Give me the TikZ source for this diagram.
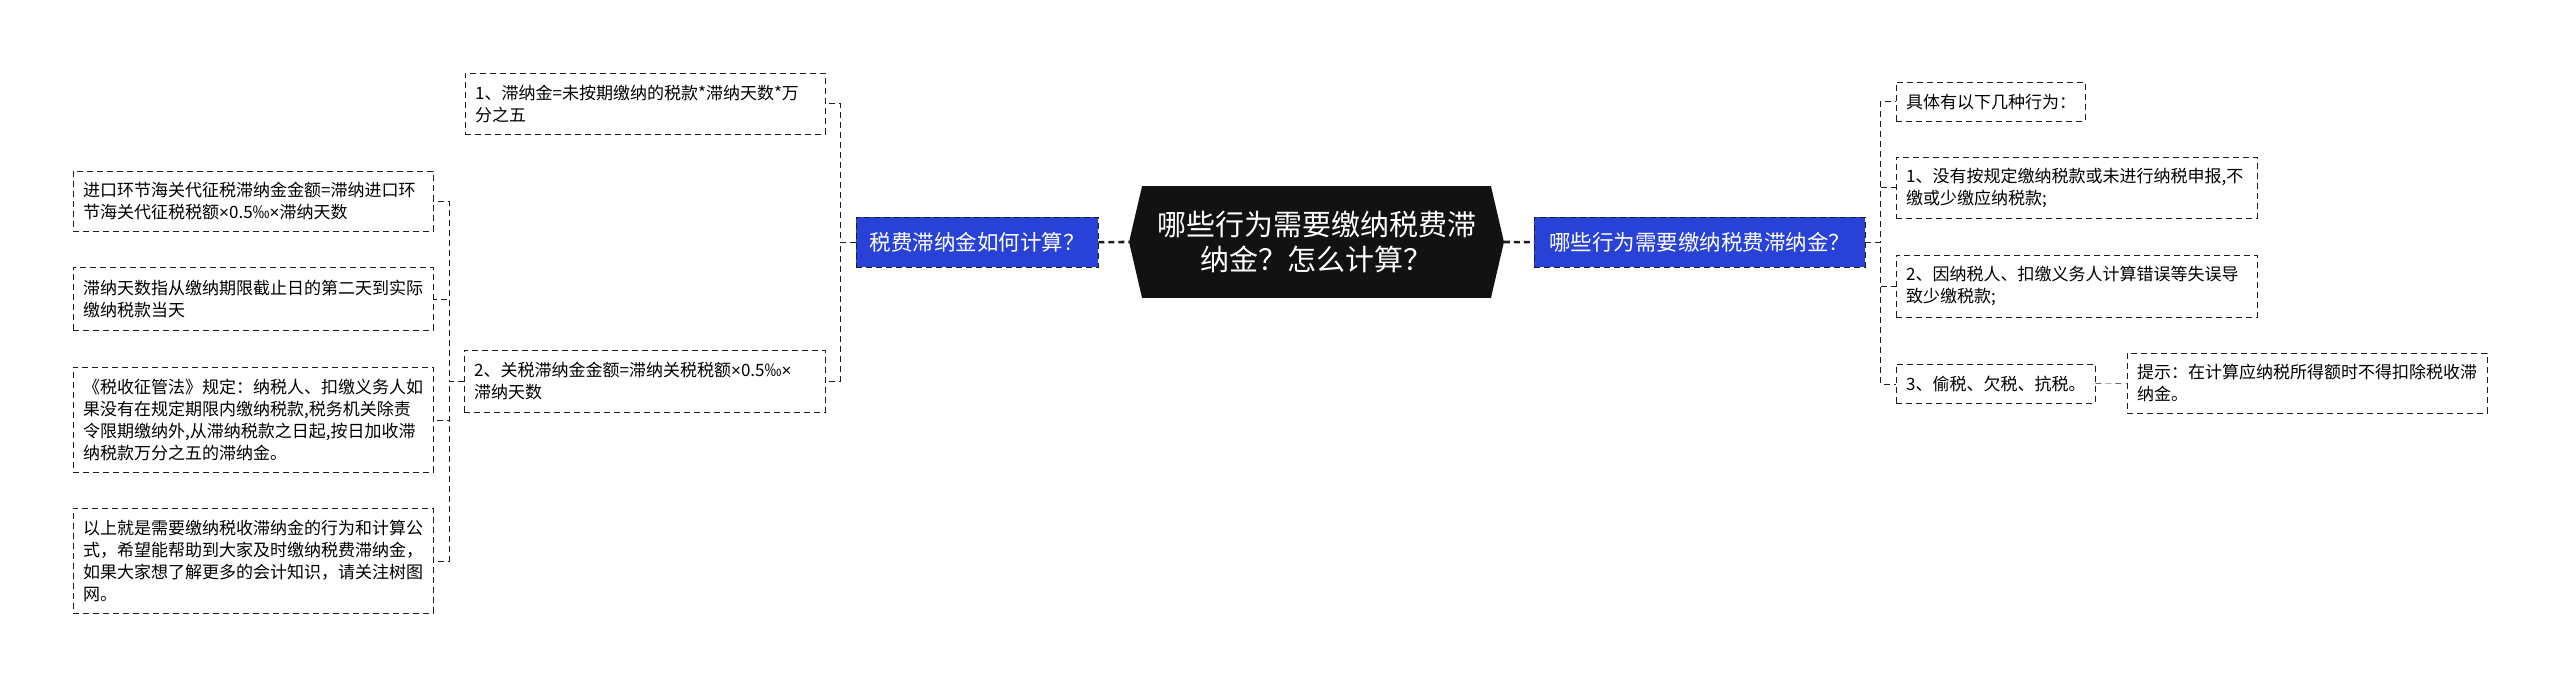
\documentclass[tikz,border=0pt]{standalone}
\usepackage{fontspec}
\setmainfont{Noto Sans CJK SC}
\newfontfamily\latinfont{Liberation Sans}
\newcommand{\timessign}{{\latinfont ×}}
\definecolor{qblue}{RGB}{40,66,216}
\definecolor{ink}{RGB}{28,28,28}
\pgfdeclarelayer{bg}
\pgfsetlayers{bg,main}

\begin{document}
\begin{tikzpicture}[x=1pt, y=-1pt, line width=1.9pt,
  link/.style={draw=ink, dash pattern=on 6pt off 4pt},
  leaf/.style={draw=ink, dash pattern=on 6pt off 4pt, anchor=north west,
    align=left, inner xsep=10pt, inner ysep=0pt,
    font=\fontsize{17}{22}\selectfont},
  ques/.style={fill=qblue, draw=ink, dash pattern=on 6pt off 4pt,
    text=white, anchor=north west, inner sep=0pt, minimum height=50pt,
    font=\fontsize{21.5}{26}\selectfont},
  root/.style={text=white, align=center, inner sep=0pt,
    minimum width=373pt, minimum height=110pt,
    font=\fontsize{29}{35}\selectfont}]

\useasboundingbox (0,0) rectangle (2560,687);

% centre
\node[root] (root) at (1316.5,242) {哪些行为需要缴纳税费滞\\纳金？怎么计算？};
\begin{pgfonlayer}{bg}
  \fill[black!93] (root.west) -- ([xshift=13]root.north west) -- ([xshift=-13]root.north east)
    -- (root.east) -- ([xshift=-13]root.south east) -- ([xshift=13]root.south west) -- cycle;
\end{pgfonlayer}

% left branch
\node[ques, minimum width=242pt] (lq) at (856,217) {税费滞纳金如何计算？};
\node[leaf, text width=340pt, minimum height=61pt] (m1) at (465,73) {1、滞纳金=未按期缴纳的税款*滞纳天数*万\\分之五};
\node[leaf, text width=341pt, minimum height=62pt] (m2) at (464,350) {2、关税滞纳金金额=滞纳关税税额\timessign{}0.5‰\timessign{}\\滞纳天数};

\node[leaf, text width=340pt, minimum height=60pt] (tA) at (73,171) {进口环节海关代征税滞纳金金额=滞纳进口环\\节海关代征税税额\timessign{}0.5‰\timessign{}滞纳天数};
\node[leaf, text width=340pt, minimum height=63pt] (tB) at (73,267) {滞纳天数指从缴纳期限截止日的第二天到实际\\缴纳税款当天};
\node[leaf, text width=340pt, minimum height=105pt] (tC) at (73,367) {《税收征管法》规定：纳税人、扣缴义务人如\\果没有在规定期限内缴纳税款,税务机关除责\\令限期缴纳外,从滞纳税款之日起,按日加收滞\\纳税款万分之五的滞纳金。};
\node[leaf, text width=340pt, minimum height=105pt] (tD) at (73,508) {以上就是需要缴纳税收滞纳金的行为和计算公\\式，希望能帮助到大家及时缴纳税费滞纳金，\\如果大家想了解更多的会计知识，请关注树图\\网。};

% right branch
\node[ques, minimum width=331pt] (rq) at (1534,217) {哪些行为需要缴纳税费滞纳金？};
\node[leaf, text width=169pt, minimum height=39pt] (r0) at (1896,82) {具体有以下几种行为：};
\node[leaf, text width=341pt, minimum height=61pt] (r1) at (1896,157) {1、没有按规定缴纳税款或未进行纳税申报,不\\缴或少缴应纳税款;};
\node[leaf, text width=341pt, minimum height=62pt] (r2) at (1896,255) {2、因纳税人、扣缴义务人计算错误等失误导\\致少缴税款;};
\node[leaf, text width=179pt, minimum height=39pt] (r3) at (1896,364) {3、偷税、欠税、抗税。};
\node[leaf, text width=340pt, minimum height=60pt] (r4) at (2127,353) {提示：在计算应纳税所得额时不得扣除税收滞\\纳金。};

% connectors
\draw[link, line width=2.6pt] (lq.east) -- (root.west);
\draw[link, line width=2.6pt] (root.east) -- (rq.west);
\foreach \n in {m1,m2}
  \draw[link] (lq.west) -- ++(-16,0) |- (\n.east);
\foreach \n in {tA,tB,tC,tD}
  \draw[link] (m2.west) -- ++(-15,0) |- (\n.east);
\foreach \n in {r0,r1,r2,r3}
  \draw[link] (rq.east) -- ++(15,0) |- (\n.west);
\draw[link] (r3.east) -- (r4.west);

\end{tikzpicture}
\end{document}
